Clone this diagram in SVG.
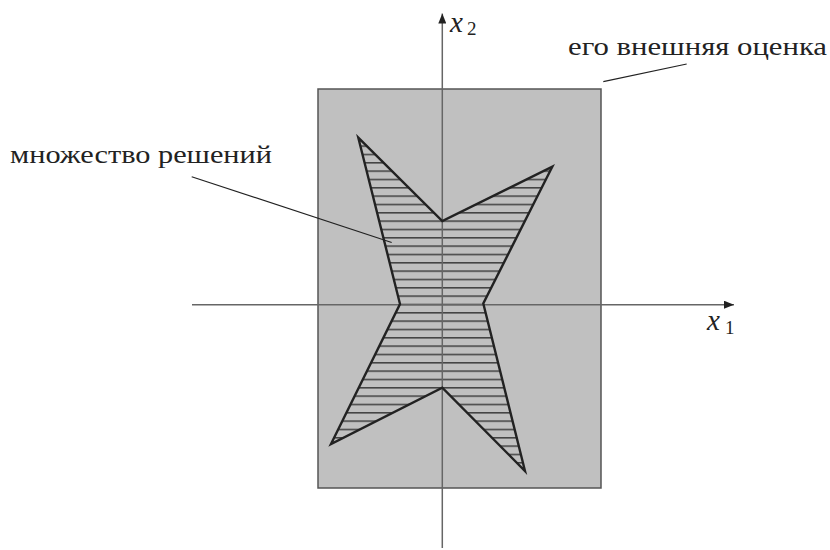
<svg xmlns="http://www.w3.org/2000/svg" width="830" height="550" viewBox="0 0 830 550">
<style>
.axis{stroke:#666;stroke-width:1.5;fill:none}
.lead{stroke:#222;stroke-width:1.2;fill:none}
.lbl{font-family:"Liberation Serif","Times New Roman",serif;font-size:25px;fill:#222}
.var{font-family:"Liberation Serif","Times New Roman",serif;font-style:italic;font-size:29px;fill:#222}
.sub{font-family:"Liberation Serif","Times New Roman",serif;font-size:19px;fill:#222}
</style>
<defs>
<pattern id="hatch" patternUnits="userSpaceOnUse" x="0" y="0" width="830" height="8.333">
<line x1="0" y1="4.6" x2="830" y2="4.6" stroke="#1a1a1a" stroke-width="1.1"/>
</pattern>
<marker id="arr" viewBox="0 0 10 8" refX="10" refY="4" markerWidth="10" markerHeight="8" markerUnits="userSpaceOnUse" orient="auto">
<path d="M0,0 L10,4 L0,8 Z" fill="#222"/>
</marker>
</defs>
<g id="estimate">
<rect x="318" y="89" width="283" height="399" fill="#c0c0c0" stroke="#555" stroke-width="1.5"/>
</g>
<g id="solution-set">
<polygon points="358.3,137.7 442.3,221 552.3,166.7 483.3,303.5 525,471 442.3,387.7 331,444 400,304" fill="url(#hatch)" stroke="none"/>
</g>
<g id="axes">
<line class="axis" x1="192" y1="304.7" x2="734" y2="304.7" marker-end="url(#arr)"/>
<line class="axis" x1="442.3" y1="548" x2="442.3" y2="13.5" marker-end="url(#arr)"/>
</g>
<g id="solution-outline">
<polygon points="358.3,137.7 442.3,221 552.3,166.7 483.3,303.5 525,471 442.3,387.7 331,444 400,304" fill="none" stroke="#222" stroke-width="2.4" stroke-linejoin="miter"/>
</g>
<g id="connectors">
<line class="lead" x1="603.3" y1="81.7" x2="686.7" y2="64"/>
<line class="lead" x1="191.7" y1="176.7" x2="391.7" y2="242.5"/>
</g>
<g id="label-estimate">
<text class="lbl" x="568" y="55" textLength="259" lengthAdjust="spacingAndGlyphs">его внешняя оценка</text>
</g>
<g id="label-solutions">
<text class="lbl" x="10" y="163" textLength="262" lengthAdjust="spacingAndGlyphs">множество решений</text>
</g>
<g id="label-x2">
<text class="var" x="450" y="31.5">x</text>
<text class="sub" x="467" y="35">2</text>
</g>
<g id="label-x1">
<text class="var" x="707" y="330">x</text>
<text class="sub" x="725" y="334">1</text>
</g>
</svg>
